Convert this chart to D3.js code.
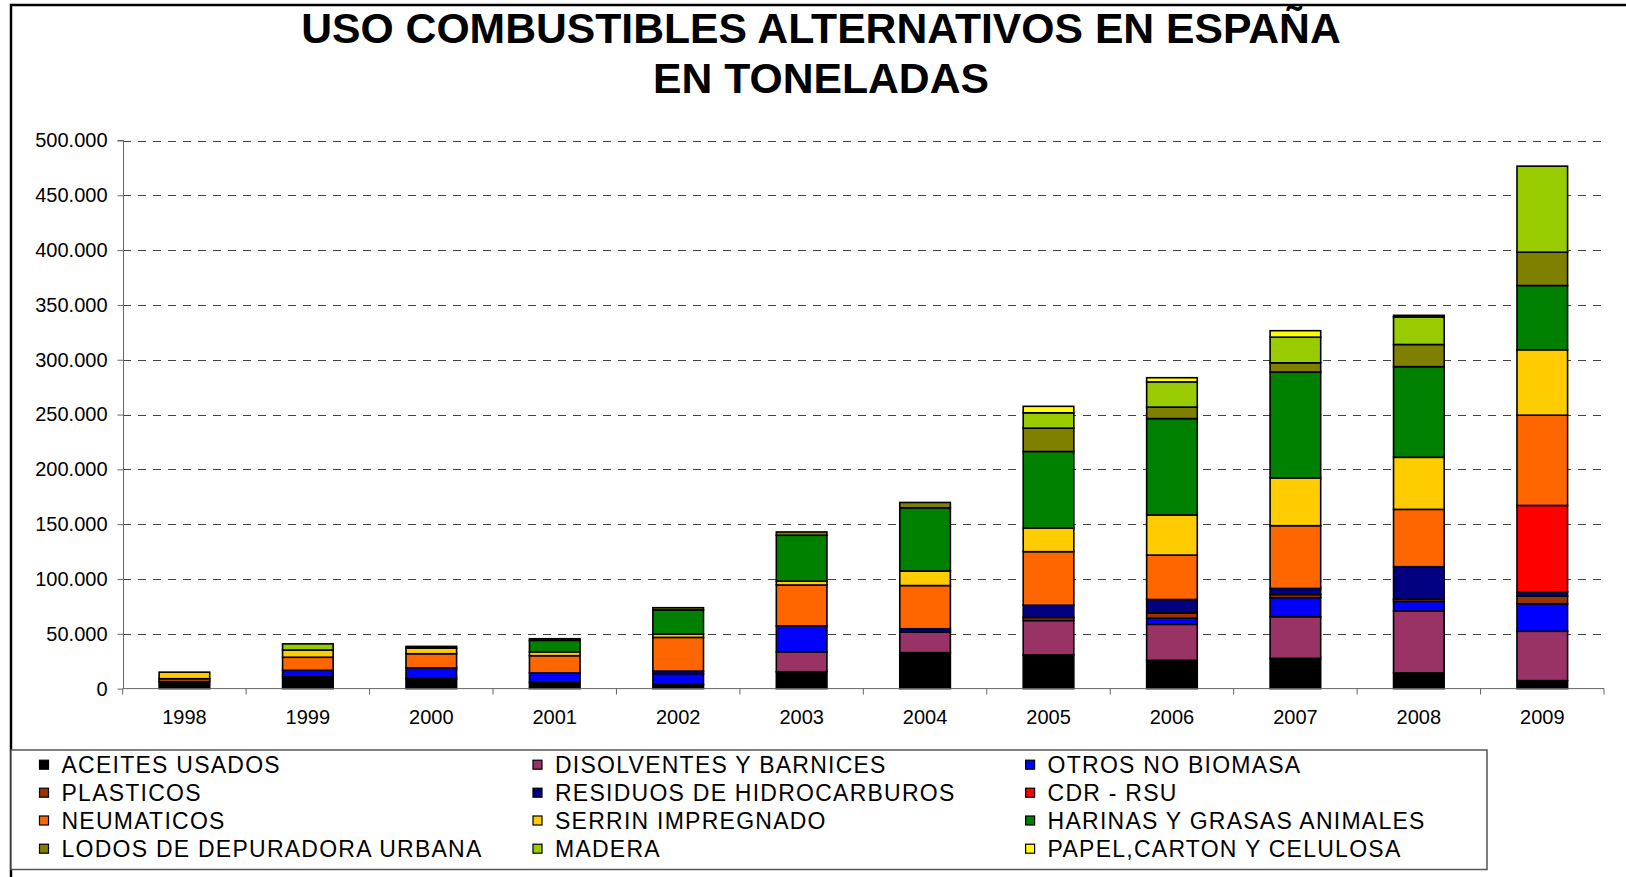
<!DOCTYPE html>
<html>
<head>
<meta charset="utf-8">
<script src="https://cdn.jsdelivr.net/npm/d3@7"></script>
<style>
  html, body { margin: 0; padding: 0; background: #fff; }
  svg { display: block; font-family: "Liberation Sans", Arial, sans-serif; }
</style>
</head>
<body>
<svg id="chart" width="1626" height="877"></svg>
<script>
const years = ["1998","1999","2000","2001","2002","2003","2004","2005","2006","2007","2008","2009"];
const seriesNames = ["ACEITES USADOS","DISOLVENTES Y BARNICES","OTROS NO BIOMASA","PLASTICOS","RESIDUOS DE HIDROCARBUROS","CDR - RSU","NEUMATICOS","SERRIN IMPREGNADO","HARINAS Y GRASAS ANIMALES","LODOS DE DEPURADORA URBANA","MADERA","PAPEL,CARTON Y CELULOSA"];
const seriesColors = ["#000000","#993366","#0000FF","#993300","#000080","#FF0000","#FF6600","#FFCC00","#008000","#808000","#99CC00","#FFFF00"];

const aceites     = [6500, 10800, 9100, 5600, 3800, 15400, 32800, 30700, 25800, 27600, 14300, 7300];
const disolventes = [0, 0, 0, 0, 0, 18100, 18800, 31400, 32800, 38000, 56500, 45000];
const otros       = [0, 5900, 9800, 8700, 9800, 23700, 0, 0, 5600, 17400, 8700, 25100];
const plasticos   = [0, 0, 0, 0, 0, 0, 0, 2800, 4900, 2800, 2000, 7000];
const residuos    = [0, 0, 0, 0, 2400, 0, 3000, 11200, 12200, 5600, 29700, 3800];
const cdr         = [0, 0, 0, 0, 0, 0, 0, 0, 0, 0, 0, 78900];
const neumaticos  = [2500, 11900, 12900, 15700, 30700, 37300, 39400, 48800, 40500, 57200, 52300, 82300];
const serrin      = [6000, 6600, 5200, 3500, 3100, 3500, 13300, 21600, 36600, 43600, 47500, 59700];
const harinas     = [0, 0, 0, 10500, 22000, 41900, 57600, 69800, 87900, 96600, 82700, 58600];
const lodos       = [0, 0, 1500, 1500, 2000, 3000, 4900, 21300, 10500, 8400, 20200, 30400];
const madera      = [0, 5600, 0, 0, 0, 0, 0, 14000, 23000, 23400, 25100, 78500];
const papel       = [0, 0, 0, 0, 0, 0, 0, 5900, 3800, 5900, 1500, 0];

const yTicks = [0, 50000, 100000, 150000, 200000, 250000, 300000, 350000, 400000, 450000, 500000];
const titleLines = ["USO COMBUSTIBLES ALTERNATIVOS EN ESPAÑA", "EN TONELADAS"];

const seriesValues = [aceites, disolventes, otros, plasticos, residuos, cdr, neumaticos, serrin, harinas, lodos, madera, papel];

const rows = years.map((y, i) => {
  const r = { year: y };
  seriesNames.forEach((s, k) => { r[s] = seriesValues[k][i]; });
  return r;
});

const svg = d3.select("#chart");

// outer frame
svg.append("rect").attr("x", 11).attr("y", 5).attr("width", 1700).attr("height", 1000)
  .attr("fill", "none").attr("stroke", "#000").attr("stroke-width", 2.5);

// title
svg.append("text").attr("x", 821).attr("y", 42.5).attr("text-anchor", "middle")
  .attr("font-size", 42.7).attr("font-weight", "bold").attr("fill", "#000").text(titleLines[0]);
svg.append("text").attr("x", 821).attr("y", 93).attr("text-anchor", "middle")
  .attr("font-size", 42.7).attr("font-weight", "bold").attr("fill", "#000").text(titleLines[1]);

const x = d3.scaleBand().domain(years).range([122.7, 1604]).padding(0);
const y = d3.scaleLinear().domain([0, 500000]).range([688.6, 140.5]);

// gridlines
svg.append("g").selectAll("line").data(yTicks.filter(t => t > 0)).join("line")
  .attr("x1", 123).attr("x2", 1604)
  .attr("y1", d => Math.round(y(d)) + 0.5).attr("y2", d => Math.round(y(d)) + 0.5)
  .attr("stroke", "#444").attr("stroke-width", 1).attr("stroke-dasharray", "8,7");

// bars
const stack = d3.stack().keys(seriesNames);
const stacked = stack(rows);
const barW = x.bandwidth() * 0.41;
const layers = svg.append("g").selectAll("g").data(stacked).join("g")
  .attr("fill", (d, i) => seriesColors[i]);
layers.selectAll("rect").data(d => d.filter(p => p[1] - p[0] > 0)).join("rect")
  .attr("x", d => x(d.data.year) + (x.bandwidth() - barW) / 2)
  .attr("width", barW)
  .attr("y", d => y(d[1]))
  .attr("height", d => y(d[0]) - y(d[1]))
  .attr("stroke", "#000").attr("stroke-width", 1.6);

// y axis
const yAxis = d3.axisLeft(y).tickValues(yTicks).tickSize(6).tickPadding(10)
  .tickFormat(d => d === 0 ? "0" : d3.format(",")(d).replace(/,/g, "."));
const yg = svg.append("g").attr("transform", "translate(123.5,0)").call(yAxis);
yg.select(".domain").attr("stroke", "#666").attr("d", `M-6,${y(500000)}H0V${y(0)}`);
yg.selectAll(".tick line").attr("stroke", "#666");
yg.selectAll("text").attr("font-size", 20).attr("fill", "#000")
  .attr("font-family", "'Liberation Sans', Arial, sans-serif");

// x axis
const xAxis = d3.axisBottom(x).tickSize(0).tickPadding(21);
const xg = svg.append("g").attr("transform", `translate(0,${y(0)})`).call(xAxis);
xg.select(".domain").attr("stroke", "#666").attr("d", `M123,0H1604`);
xg.selectAll("text").attr("font-size", 20).attr("fill", "#000")
  .attr("font-family", "'Liberation Sans', Arial, sans-serif");
// category boundary ticks
svg.append("g").selectAll("line").data(years.concat(["end"])).join("line")
  .attr("x1", (d, i) => i < years.length ? x(d) : x(years[years.length - 1]) + x.bandwidth())
  .attr("x2", (d, i) => i < years.length ? x(d) : x(years[years.length - 1]) + x.bandwidth())
  .attr("y1", y(0)).attr("y2", y(0) + 6)
  .attr("stroke", "#666");

// legend
svg.append("rect").attr("x", 11).attr("y", 750).attr("width", 1476).attr("height", 119.5)
  .attr("fill", "#fff").attr("stroke", "#555").attr("stroke-width", 1.5);
const colX = [39.5, 533, 1025.6];
const rowY = [772.7, 800.7, 828.5, 856.7];
const lg = svg.append("g").selectAll("g").data(seriesNames).join("g")
  .attr("transform", (d, i) => `translate(${colX[i % 3]},${rowY[Math.floor(i / 3)]})`);
lg.append("rect").attr("x", 0).attr("y", -12.5).attr("width", 9).attr("height", 9)
  .attr("fill", (d, i) => seriesColors[i]).attr("stroke", "#000").attr("stroke-width", 1.2);
lg.append("text").attr("x", 22).attr("y", 0).attr("font-size", 23).attr("letter-spacing", "1.25px")
  .attr("fill", "#000").text(d => d);
</script>
</body>
</html>
